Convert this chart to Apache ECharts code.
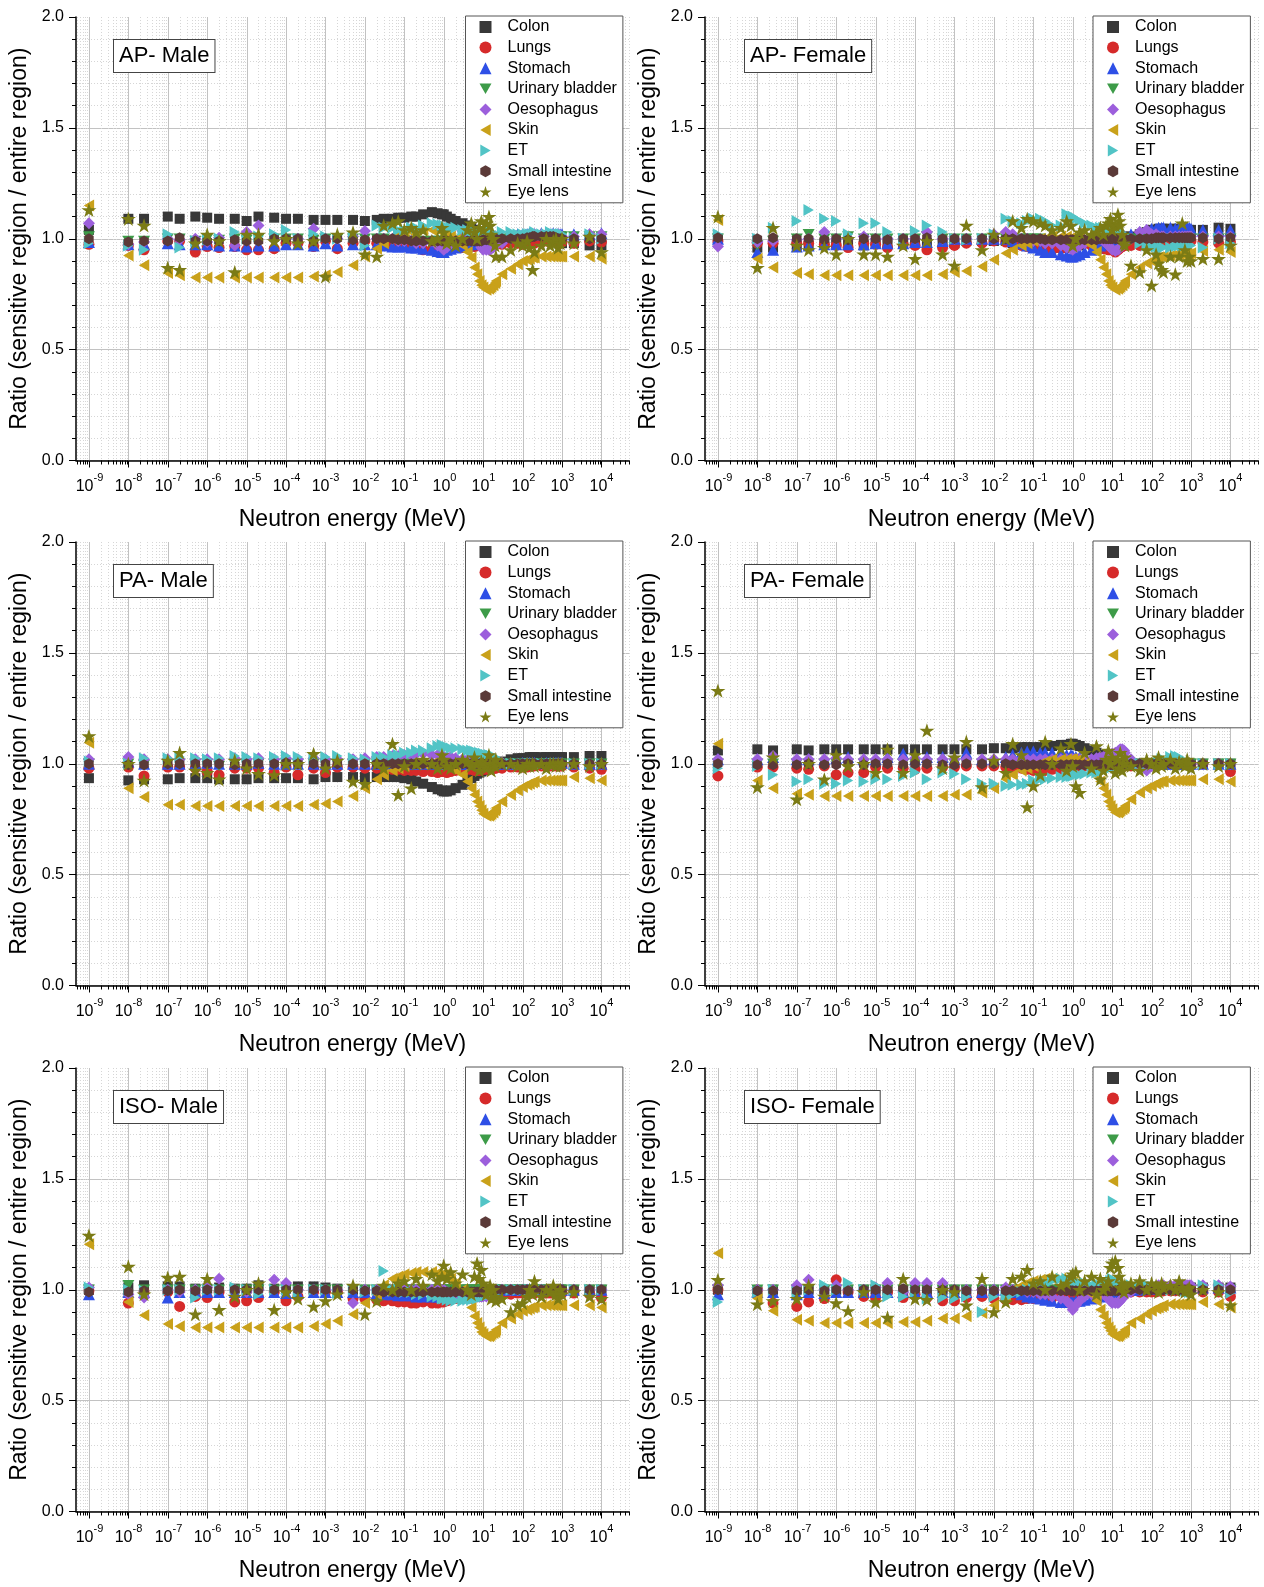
<!DOCTYPE html>
<html><head><meta charset="utf-8">
<script src="https://cdn.jsdelivr.net/npm/echarts@6/dist/echarts.min.js"></script>
<style>html,body{margin:0;padding:0;background:#fff}#c{width:1264px;height:1587px}</style>
</head><body><div id="c"></div>
<script>
// ---------- DATA ----------
const energies = [1e-9,1e-8,2.5e-8,
  1e-7,2e-7,5e-7,1e-6,2e-6,5e-6,1e-5,2e-5,5e-5,1e-4,2e-4,5e-4,1e-3,2e-3,5e-3,
  1e-2,2e-2,3e-2,5e-2,7e-2,0.1,0.15,0.2,0.3,0.5,0.7,0.9,
  1,1.2,1.5,2,3,4,5,6,7,8,9,
  10,12,14,15,16,18,20,21,30,
  50,75,100,130,150,180,200,300,400,500,600,700,800,900,1000,
  2000,5000,10000];
const seriesNames = ['Colon','Lungs','Stomach','Urinary bladder','Oesophagus','Skin','ET','Small intestine','Eye lens'];
const panelTitles = ['AP- Male','AP- Female','PA- Male','PA- Female','ISO- Male','ISO- Female'];
const decadeExponents = [-9,-8,-7,-6,-5,-4,-3,-2,-1,0,1,2,3,4];
const yTicks = [0,0.5,1.0,1.5,2.0];

// AP - Male
const apMColon = [1.04,1.09,1.09,
  1.10,1.09,1.10,1.095,1.09,1.09,1.08,1.10,1.095,1.09,1.09,1.085,1.085,1.085,1.085,
  1.08,1.085,1.09,1.09,1.095,1.095,1.10,1.10,1.11,1.12,1.115,1.11,
  1.11,1.10,1.09,1.08,1.07,1.06,1.05,1.04,1.03,1.02,1.01,
  1.00,1.00,0.99,0.99,0.99,0.99,0.99,0.99,0.99,
  0.99,0.99,1.00,1.00,1.00,1.00,1.00,1.00,1.00,1.00,1.00,1.00,0.99,0.99,0.98,
  0.98,0.97,0.97];
const apMLungs = [0.975,0.97,0.95,
  0.99,0.99,0.94,0.965,0.96,0.965,0.95,0.95,0.955,0.98,0.98,0.965,0.99,0.955,0.98,
  0.99,0.98,0.98,0.97,0.97,0.97,0.96,0.965,0.95,0.95,0.955,0.96,
  0.965,0.97,0.97,0.97,0.96,0.965,0.97,0.965,0.97,0.975,0.97,
  0.975,0.98,0.97,0.975,0.98,0.975,0.98,0.98,0.975,
  0.98,0.98,0.975,0.98,0.98,0.985,0.98,0.985,0.99,0.985,0.99,0.99,0.985,0.99,0.985,
  0.98,0.99,0.985];
const apMStomach = [0.985,0.975,0.975,
  0.98,0.975,0.975,0.975,0.97,0.97,0.965,0.97,0.97,0.975,0.975,0.97,0.98,0.97,0.975,
  0.975,0.975,0.97,0.965,0.965,0.965,0.96,0.96,0.955,0.95,0.945,0.94,
  0.94,0.95,0.955,0.96,0.965,0.97,0.975,0.98,0.98,0.985,0.99,
  0.99,0.995,1.0,1.0,1.0,1.005,1.01,1.01,1.01,
  1.015,1.02,1.02,1.02,1.025,1.02,1.02,1.025,1.02,1.02,1.025,1.02,1.02,1.02,1.02,
  1.02,1.02,1.025];
const apMBladder = [1.01,0.99,0.99,
  1.0,1.0,0.99,1.0,0.995,1.0,0.995,1.0,1.0,1.0,1.0,0.995,1.0,1.0,1.0,
  1.0,1.0,1.0,0.995,0.995,0.995,0.99,0.99,0.99,0.99,0.99,0.99,
  0.99,0.99,0.99,0.995,0.995,1.0,1.0,1.0,1.0,1.0,1.0,
  1.0,1.0,1.0,1.0,1.0,1.0,1.0,1.0,1.0,
  1.0,1.0,1.005,1.005,1.01,1.01,1.01,1.01,1.01,1.01,1.01,1.01,1.01,1.01,1.01,
  1.01,1.01,1.01];
const apMOeso = [1.07,0.975,0.985,
  1.0,0.995,1.0,0.985,1.005,0.97,1.03,1.06,1.0,1.0,1.0,1.045,1.0,1.0,1.01,
  1.035,1.0,1.0,1.0,0.99,0.99,0.99,0.98,0.98,0.99,0.97,0.96,
  0.95,0.96,0.98,0.99,1.035,1.02,1.02,1.01,1.0,0.98,0.96,
  0.95,0.95,0.95,0.95,0.955,0.96,0.97,0.97,0.98,
  1.0,1.0,1.01,1.01,1.02,1.015,1.02,1.02,1.02,1.015,1.02,1.015,1.02,1.015,1.01,
  1.01,1.02,1.02];
const apMSkin = [1.15,0.925,0.88,
  0.845,0.835,0.825,0.825,0.825,0.825,0.825,0.825,0.825,0.825,0.825,0.83,0.835,0.85,0.88,
  0.92,0.955,0.98,1.0,1.02,1.03,1.03,1.04,1.04,1.04,1.04,1.035,
  1.03,1.02,1.01,1.0,0.97,0.94,0.915,0.87,0.84,0.81,0.79,
  0.78,0.77,0.775,0.78,0.785,0.79,0.80,0.81,0.84,
  0.865,0.885,0.90,0.905,0.91,0.915,0.915,0.92,0.92,0.92,0.92,0.92,0.92,0.92,0.92,
  0.92,0.92,0.91];
const apMET = [0.98,0.97,0.95,
  1.02,0.96,0.99,0.995,1.0,1.03,1.0,1.01,1.02,1.04,1.0,1.02,1.01,1.0,1.01,
  0.97,1.06,1.05,1.05,1.04,1.04,1.05,1.05,1.06,1.07,1.065,1.06,
  1.06,1.05,1.05,1.05,1.04,1.04,1.03,1.03,1.02,1.02,1.02,
  1.02,1.03,1.03,1.03,1.03,1.02,1.02,1.02,1.03,
  1.03,1.02,1.02,1.02,1.02,1.02,1.03,1.02,1.02,1.03,1.02,1.02,1.02,1.02,1.02,
  1.0,1.02,1.0];
const apMSI = [1.0,0.985,0.99,
  0.99,1.005,0.99,0.99,0.99,0.995,0.99,0.99,1.0,1.0,1.0,0.99,1.0,1.0,0.995,
  0.995,1.0,1.0,1.0,0.995,0.995,0.99,0.99,0.99,0.99,0.99,0.99,
  0.99,0.99,0.99,0.99,0.99,0.99,0.99,0.99,0.99,0.99,0.99,
  0.995,0.995,0.995,1.0,1.0,1.0,1.0,1.0,1.0,
  1.0,1.0,1.0,1.005,1.005,1.01,1.01,1.01,1.01,1.01,1.01,1.005,1.0,1.0,1.0,
  1.0,1.0,1.0];
const apMEye = [1.13,1.09,1.06,
  0.87,0.86,0.98,1.02,0.99,0.85,1.02,1.02,0.99,1.0,0.98,0.99,0.83,1.02,1.03,
  0.93,0.92,1.06,1.07,1.08,1.04,1.05,1.03,1.04,0.99,1.0,1.05,
  1.03,0.98,1.0,0.97,1.0,1.04,1.07,1.03,1.0,1.05,1.08,
  1.04,1.07,1.1,1.06,1.02,1.0,0.97,0.92,0.92,
  0.95,0.98,0.97,0.99,0.96,0.86,0.94,0.97,1.0,0.97,0.99,1.0,0.96,0.98,1.0,
  0.98,1.01,0.94];

// AP - Female
const apFColon = [1.0,0.96,0.96,
  0.97,0.97,0.98,0.98,0.98,0.97,0.98,0.98,0.98,0.98,0.98,0.98,0.98,0.99,0.99,
  0.99,0.99,0.98,0.98,0.97,0.97,0.97,0.96,0.96,0.96,0.96,0.96,
  0.96,0.97,0.97,0.98,0.98,0.98,0.98,0.99,0.99,0.99,0.99,
  1.0,1.0,1.0,1.0,1.0,1.0,1.0,1.01,1.01,
  1.02,1.03,1.04,1.04,1.045,1.045,1.045,1.045,1.045,1.045,1.045,1.04,1.04,1.04,1.04,
  1.04,1.05,1.045];
const apFLungs = [0.99,0.98,0.98,
  0.98,0.98,0.975,0.97,0.96,0.98,0.975,0.96,0.975,0.97,0.95,0.96,0.97,0.98,0.98,
  0.99,0.985,0.98,0.97,0.965,0.96,0.96,0.955,0.95,0.955,0.96,0.965,
  0.97,0.97,0.975,0.98,0.97,0.965,0.96,0.955,0.955,0.95,0.95,
  0.95,0.94,0.95,0.955,0.96,0.965,0.97,0.97,0.97,
  0.97,0.97,0.975,0.98,0.98,0.985,0.985,0.985,0.99,0.99,0.99,0.99,0.99,0.99,0.99,
  0.985,0.98,0.985];
const apFStomach = [1.0,0.94,0.95,
  0.965,0.97,0.975,0.975,0.975,0.975,0.98,0.98,0.98,0.985,0.985,0.99,1.0,1.0,1.0,
  1.0,1.0,0.99,0.98,0.97,0.96,0.95,0.94,0.94,0.93,0.925,0.92,
  0.92,0.925,0.93,0.94,0.95,0.96,0.97,0.975,0.98,0.985,0.99,
  0.995,1.0,1.0,1.0,1.0,1.005,1.01,1.01,1.02,
  1.03,1.04,1.045,1.045,1.05,1.05,1.05,1.05,1.045,1.05,1.05,1.045,1.05,1.05,1.045,
  1.04,1.04,1.04];
const apFBladder = [1.0,0.97,0.99,
  1.0,1.02,1.0,1.0,1.01,1.0,1.0,1.0,1.0,1.0,1.01,1.0,1.0,1.0,1.0,
  1.0,1.0,1.0,1.0,1.0,1.0,1.0,0.99,0.99,0.99,0.99,0.99,
  0.99,0.99,0.99,0.99,1.0,1.0,1.0,1.0,1.0,1.0,1.0,
  1.0,1.0,1.0,1.0,1.0,1.0,1.0,1.0,1.0,
  1.0,1.0,1.0,1.0,1.0,1.0,1.0,1.0,1.0,1.0,1.0,1.0,1.0,1.0,1.0,
  1.0,1.0,1.0];
const apFOeso = [0.965,0.985,0.99,
  0.995,1.0,1.03,1.0,1.0,1.01,1.0,1.0,1.0,1.0,1.03,1.0,1.0,1.0,1.0,
  1.02,1.03,1.02,1.0,1.0,0.99,0.99,0.98,0.98,0.97,0.96,0.955,
  0.95,0.96,0.97,0.98,0.99,1.0,1.0,0.99,0.98,0.97,0.96,
  0.95,0.945,0.95,0.955,0.96,0.97,0.98,0.99,1.0,
  1.03,1.04,1.02,1.02,1.01,1.01,1.01,1.01,1.01,1.01,1.01,1.01,1.01,1.01,1.01,
  1.01,1.01,1.01];
const apFSkin = [1.085,0.91,0.87,
  0.845,0.84,0.835,0.835,0.835,0.835,0.835,0.835,0.835,0.835,0.835,0.84,0.85,0.855,0.875,
  0.905,0.935,0.95,0.97,0.98,0.99,1.0,1.0,1.01,1.01,1.01,1.005,
  1.0,1.0,1.0,0.99,0.97,0.94,0.905,0.87,0.84,0.81,0.79,
  0.78,0.77,0.775,0.78,0.785,0.79,0.80,0.81,0.84,
  0.87,0.89,0.90,0.91,0.915,0.92,0.92,0.925,0.93,0.93,0.93,0.93,0.93,0.93,0.935,
  0.945,0.95,0.94];
const apFET = [1.02,1.0,1.05,
  1.08,1.13,1.09,1.08,1.02,1.07,1.07,1.03,1.0,1.035,1.06,1.03,1.0,0.995,1.0,
  1.02,1.09,1.08,1.07,1.08,1.09,1.09,1.08,1.06,1.06,1.11,1.10,
  1.10,1.09,1.08,1.07,1.06,1.05,1.05,1.05,1.04,1.04,1.04,
  1.04,1.04,1.03,1.03,1.03,1.02,1.02,1.01,1.0,
  0.98,0.97,0.965,0.965,0.96,0.96,0.96,0.96,0.965,0.97,0.97,0.97,0.97,0.975,0.97,
  0.96,1.0,0.98];
const apFSI = [1.005,1.0,1.005,
  1.0,1.0,0.995,1.0,0.995,1.0,1.0,0.995,1.0,1.0,1.005,1.0,1.0,1.0,1.0,
  1.0,1.0,1.0,1.0,1.0,1.0,1.0,0.995,0.995,0.995,0.995,0.995,
  0.995,0.995,0.995,0.995,0.995,0.995,1.0,1.0,1.0,1.0,1.0,
  1.0,1.0,1.0,1.0,1.0,1.0,1.0,1.0,1.0,
  1.0,1.0,1.0,1.005,1.005,1.005,1.005,1.005,1.005,1.005,1.005,1.005,1.005,1.005,1.005,
  1.005,1.0,1.005];
const apFEye = [1.1,0.87,1.05,
  0.97,0.95,0.96,0.93,1.0,0.93,0.93,0.92,0.97,0.91,0.99,0.93,0.88,1.06,0.95,
  1.02,1.0,1.08,1.05,1.09,1.08,1.07,1.06,1.04,1.05,1.08,1.06,
  0.97,1.0,1.03,1.04,1.02,1.03,1.05,1.02,1.06,1.07,1.09,
  1.04,1.06,1.11,1.08,1.06,1.02,0.98,0.97,0.88,
  0.85,0.95,0.79,0.93,0.89,0.86,0.85,0.92,0.84,0.92,1.07,0.95,0.90,0.92,0.90,
  0.91,0.91,0.97];

// PA - Male
const paMColon = [0.935,0.925,0.93,
  0.93,0.935,0.935,0.935,0.93,0.93,0.93,0.935,0.935,0.935,0.935,0.93,0.94,0.94,0.94,
  0.94,0.94,0.94,0.94,0.94,0.935,0.93,0.92,0.91,0.895,0.885,0.88,
  0.875,0.875,0.88,0.89,0.905,0.92,0.935,0.945,0.955,0.96,0.965,
  0.97,0.975,0.98,0.985,0.99,0.995,1.0,1.0,1.01,
  1.02,1.025,1.025,1.025,1.03,1.03,1.03,1.03,1.03,1.03,1.03,1.03,1.03,1.03,1.03,
  1.03,1.035,1.035];
const paMLungs = [0.98,0.985,0.945,
  0.985,0.985,0.98,0.965,0.95,0.98,0.98,0.98,0.96,0.985,0.95,0.98,0.96,0.985,0.985,
  0.98,0.98,0.98,0.975,0.975,0.97,0.97,0.97,0.965,0.965,0.96,0.965,
  0.965,0.96,0.965,0.97,0.97,0.975,0.975,0.97,0.97,0.97,0.975,
  0.975,0.975,0.975,0.98,0.98,0.98,0.98,0.98,0.98,
  0.985,0.985,0.985,0.985,0.99,0.99,0.99,0.99,0.99,0.99,0.99,0.99,0.99,0.99,0.99,
  0.985,0.98,0.975];
const paMStomach = [1.0,1.01,1.0,
  1.0,1.0,1.0,1.005,1.0,1.0,1.0,1.005,1.0,1.0,1.0,1.0,1.0,1.0,1.0,
  1.0,1.0,1.0,1.0,1.0,1.0,1.0,1.0,1.0,1.0,1.0,1.0,
  1.0,1.0,1.0,1.0,1.0,1.0,1.0,1.0,1.0,1.0,1.0,
  1.0,1.0,1.0,1.0,1.0,1.0,1.0,1.0,1.0,
  1.0,1.0,1.005,1.005,1.005,1.005,1.005,1.005,1.005,1.005,1.005,1.005,1.005,1.005,1.005,
  1.0,1.0,1.0];
const paMBladder = [1.0,1.0,0.995,
  1.0,1.0,1.0,1.0,0.99,1.0,1.0,1.0,1.0,1.0,1.0,1.0,1.0,1.0,1.0,
  1.0,1.0,1.0,1.0,1.0,1.0,1.0,1.0,1.0,0.995,0.995,0.995,
  0.995,0.995,0.995,0.995,1.0,1.0,1.0,1.0,1.0,1.0,1.0,
  1.0,1.0,1.0,1.0,1.0,1.0,1.0,1.0,1.0,
  1.0,1.0,1.0,1.0,1.0,1.0,1.0,1.0,1.0,1.0,1.0,1.0,1.0,1.0,1.0,
  1.0,1.0,1.0];
const paMOeso = [1.02,1.03,1.02,
  1.02,1.02,1.02,1.02,1.02,1.025,1.02,1.025,1.02,1.025,1.02,1.025,1.02,1.02,1.02,
  1.025,1.03,1.03,1.035,1.035,1.04,1.04,1.045,1.045,1.04,1.04,1.035,
  1.03,1.03,1.03,1.025,1.02,1.02,1.02,1.015,1.015,1.01,1.01,
  1.01,1.01,1.01,1.01,1.005,1.005,1.005,1.005,1.005,
  1.0,1.0,1.0,1.0,1.0,1.0,1.0,1.0,1.0,1.0,1.0,1.0,1.0,1.0,1.0,
  1.0,1.0,1.0];
const paMSkin = [1.095,0.89,0.85,
  0.815,0.815,0.81,0.81,0.81,0.81,0.81,0.81,0.81,0.81,0.81,0.815,0.82,0.83,0.855,
  0.89,0.93,0.95,0.97,0.98,0.99,1.0,1.0,1.0,1.0,1.0,1.0,
  0.995,0.99,0.98,0.97,0.95,0.92,0.89,0.86,0.83,0.81,0.79,
  0.775,0.765,0.765,0.77,0.775,0.78,0.79,0.80,0.83,
  0.86,0.88,0.895,0.905,0.91,0.915,0.92,0.925,0.925,0.925,0.925,0.925,0.925,0.925,0.925,
  0.94,0.935,0.925];
const paMET = [1.01,1.0,1.025,
  1.025,1.03,1.025,1.02,1.025,1.035,1.03,1.025,1.03,1.035,1.03,1.025,1.03,1.035,1.025,
  1.02,1.03,1.03,1.04,1.04,1.05,1.05,1.06,1.06,1.07,1.08,1.085,
  1.08,1.075,1.07,1.07,1.065,1.06,1.06,1.055,1.05,1.05,1.045,
  1.045,1.04,1.04,1.035,1.035,1.03,1.03,1.02,1.01,
  1.0,1.0,1.0,1.0,1.0,1.0,1.0,1.0,1.0,1.0,1.0,1.0,1.0,1.0,1.0,
  1.0,1.0,1.0];
const paMSI = [1.0,0.995,0.995,
  1.0,1.0,1.0,1.0,1.0,0.995,1.0,1.0,1.0,1.005,1.0,1.0,1.0,1.0,1.0,
  1.0,1.0,1.0,1.0,1.0,1.0,1.0,1.0,1.0,1.0,1.0,1.0,
  1.0,1.0,1.0,1.0,1.0,1.0,1.0,1.0,1.0,1.0,1.0,
  1.0,1.0,1.0,1.0,1.0,1.0,1.0,1.0,1.0,
  1.0,1.0,1.0,1.0,1.0,1.0,1.0,1.0,1.0,1.0,1.0,1.0,1.0,1.0,1.0,
  1.0,1.0,1.0];
const paMEye = [1.125,1.0,0.925,
  1.015,1.05,0.97,0.96,0.93,1.015,0.98,0.955,0.95,1.0,1.0,1.045,0.98,1.015,0.92,
  0.91,1.0,0.98,1.09,0.86,0.99,0.89,1.0,1.02,1.0,0.98,1.04,
  1.02,0.99,0.98,1.0,1.02,1.01,0.99,1.03,1.0,0.97,1.01,
  1.0,0.98,1.04,1.0,0.97,1.0,0.99,1.02,1.0,
  1.0,0.99,0.98,1.0,0.99,1.0,0.99,1.0,0.98,1.0,1.0,0.99,1.0,0.99,1.0,
  1.0,0.99,1.0];

// PA - Female
const paFColon = [1.06,1.065,1.06,
  1.065,1.06,1.065,1.065,1.065,1.065,1.065,1.065,1.065,1.065,1.065,1.065,1.065,1.065,1.065,
  1.07,1.07,1.07,1.075,1.075,1.075,1.075,1.08,1.08,1.085,1.085,1.09,
  1.09,1.085,1.08,1.07,1.06,1.05,1.04,1.03,1.02,1.01,1.0,
  1.0,1.0,1.0,1.0,1.0,1.0,1.0,1.0,1.0,
  1.0,1.0,1.0,1.0,1.0,1.0,1.0,1.0,1.0,1.0,1.0,1.0,1.0,1.0,1.0,
  1.0,1.0,1.0];
const paFLungs = [0.945,0.985,0.985,
  0.98,0.975,0.99,0.95,0.96,0.96,0.985,0.98,0.98,0.975,0.98,0.985,0.985,0.99,0.99,
  0.99,0.985,0.98,0.98,0.975,0.97,0.97,0.97,0.975,0.975,0.98,0.98,
  0.985,0.985,0.99,0.99,0.99,0.99,0.99,0.99,0.99,0.99,0.99,
  0.99,0.99,0.99,0.99,0.99,0.99,0.99,0.99,0.99,
  0.99,0.995,0.995,1.0,1.0,1.0,1.0,1.0,1.0,1.0,1.0,1.0,1.0,1.0,1.0,
  1.0,1.0,0.965];
const paFStomach = [1.02,1.02,1.03,
  1.02,1.02,1.02,1.025,1.03,1.02,1.02,1.03,1.045,1.02,1.03,1.03,1.02,1.05,1.02,
  1.02,1.03,1.04,1.05,1.055,1.055,1.05,1.05,1.05,1.045,1.04,1.04,
  1.035,1.03,1.03,1.025,1.02,1.02,1.015,1.01,1.01,1.01,1.005,
  1.005,1.0,1.0,1.0,1.0,1.0,1.0,1.0,1.0,
  1.0,1.0,1.0,1.0,1.0,1.0,1.0,1.0,1.0,1.0,1.0,1.0,1.0,1.0,1.0,
  1.0,1.0,1.0];
const paFBladder = [1.0,1.0,1.0,
  1.0,1.0,1.0,1.0,1.0,1.0,1.0,1.0,1.0,1.0,1.0,1.0,1.0,1.0,1.0,
  1.0,1.0,1.0,1.0,1.0,1.0,1.0,1.0,1.0,1.0,1.0,1.0,
  1.0,1.0,1.0,1.0,1.0,1.0,1.0,1.0,1.0,1.0,1.0,
  1.0,1.0,1.0,1.0,1.0,1.0,1.0,1.0,1.0,
  1.0,1.0,1.0,1.0,1.0,1.0,1.0,1.0,1.0,1.0,1.0,1.0,1.0,1.0,1.0,
  1.0,1.0,1.0];
const paFOeso = [1.02,1.02,1.035,
  1.02,1.02,1.02,1.025,1.02,1.02,1.02,1.02,1.02,1.025,1.02,1.02,1.02,1.02,1.02,
  1.02,1.02,1.02,1.02,1.02,1.02,1.02,1.02,1.02,1.02,1.02,1.02,
  1.02,1.02,1.02,1.02,1.02,1.025,1.03,1.03,1.035,1.04,1.04,
  1.045,1.05,1.055,1.06,1.065,1.065,1.06,1.05,1.02,
  0.98,0.97,0.99,1.0,1.0,1.0,1.0,1.0,1.0,1.0,1.0,1.0,1.0,1.0,1.0,
  1.0,1.0,1.0];
const paFSkin = [1.09,0.925,0.89,
  0.865,0.86,0.855,0.855,0.855,0.855,0.855,0.855,0.855,0.855,0.855,0.855,0.86,0.86,0.87,
  0.89,0.93,0.95,0.97,0.98,0.99,1.0,1.01,1.02,1.02,1.02,1.02,
  1.02,1.015,1.01,1.0,0.98,0.95,0.92,0.89,0.86,0.83,0.81,
  0.795,0.78,0.78,0.785,0.79,0.795,0.80,0.81,0.84,
  0.87,0.89,0.90,0.91,0.915,0.92,0.92,0.925,0.925,0.925,0.925,0.925,0.925,0.925,0.925,
  0.93,0.93,0.92];
const paFET = [0.98,0.99,0.95,
  0.92,0.93,0.91,0.91,0.925,0.92,0.93,0.93,0.945,0.96,0.93,0.96,0.955,0.93,0.91,
  0.91,0.90,0.905,0.905,0.91,0.925,0.93,0.93,0.935,0.94,0.94,0.945,
  0.945,0.95,0.95,0.955,0.96,0.96,0.965,0.97,0.975,0.98,0.98,
  0.985,0.99,0.99,0.99,0.995,0.995,1.0,1.0,1.0,
  1.0,1.0,1.0,1.0,1.01,1.02,1.02,1.03,1.035,1.03,1.02,1.01,1.0,1.0,1.0,
  1.0,1.0,1.0];
const paFSI = [1.0,0.995,0.995,
  0.995,1.0,0.995,0.995,1.0,0.995,1.0,1.0,0.995,1.0,1.0,0.995,0.995,1.0,1.0,
  1.0,1.0,0.995,0.995,0.995,0.995,0.995,0.995,0.995,0.995,0.995,0.995,
  0.995,0.995,0.995,0.995,0.995,0.995,0.995,0.995,0.995,0.995,0.995,
  0.995,0.995,0.995,1.0,1.0,1.0,1.0,1.0,1.0,
  1.0,1.0,1.0,1.0,1.0,1.0,1.0,1.0,1.0,1.0,1.0,1.0,1.0,1.0,1.0,
  1.0,1.0,1.0];
const paFEye = [1.33,0.895,1.03,
  0.84,1.0,0.93,1.04,0.99,1.0,0.96,1.065,0.96,1.04,1.15,0.98,1.03,1.1,0.895,
  1.015,0.96,1.09,1.04,0.805,0.9,0.95,1.1,1.0,1.07,0.97,1.09,
  0.99,0.9,0.87,1.05,0.98,1.08,0.93,0.97,1.02,1.06,1.0,
  1.03,0.96,1.02,0.98,1.05,0.97,1.0,1.03,0.99,
  0.97,1.02,1.0,0.98,1.03,0.99,1.0,1.02,0.98,1.01,1.0,0.99,1.02,1.0,0.98,
  1.0,0.99,1.0];

// ISO - Male
const isoMColon = [1.0,1.01,1.02,
  1.015,1.015,1.005,1.005,1.01,1.005,1.005,1.02,1.005,1.005,1.015,1.015,1.01,1.005,1.0,
  1.0,1.0,1.0,1.0,1.0,1.0,1.0,1.0,1.0,1.0,1.0,1.0,
  1.0,1.0,1.0,1.0,1.0,1.0,1.0,1.0,1.0,1.0,1.0,
  1.0,1.0,1.0,1.0,1.0,1.0,1.0,1.0,1.0,
  1.0,1.0,1.0,1.0,1.0,1.0,1.0,1.0,1.0,1.0,1.0,1.0,1.0,1.0,1.0,
  1.0,1.0,1.0];
const isoMLungs = [0.995,0.94,0.99,
  0.99,0.925,0.97,0.965,0.99,0.945,0.95,0.965,0.99,0.95,0.97,0.99,0.99,0.99,0.96,
  0.96,0.955,0.95,0.95,0.945,0.945,0.94,0.94,0.945,0.94,0.94,0.945,
  0.945,0.95,0.955,0.96,0.96,0.965,0.965,0.97,0.97,0.97,0.975,
  0.975,0.975,0.98,0.98,0.98,0.98,0.98,0.98,0.98,
  0.98,0.985,0.985,0.985,0.985,0.985,0.985,0.985,0.985,0.985,0.985,0.985,0.985,0.985,0.985,
  0.985,0.98,0.965];
const isoMStomach = [0.98,0.99,0.99,
  0.965,0.99,0.99,0.99,0.99,0.99,0.99,0.99,0.99,0.985,0.985,0.99,0.99,0.99,0.99,
  0.99,0.985,0.98,0.98,0.975,0.975,0.975,0.97,0.97,0.97,0.97,0.97,
  0.975,0.975,0.975,0.98,0.98,0.98,0.985,0.985,0.985,0.99,0.99,
  0.99,0.99,0.99,0.995,0.995,0.995,0.995,1.0,1.0,
  1.0,1.0,1.0,1.0,1.0,1.0,1.0,1.0,1.0,1.0,1.0,1.0,1.0,1.0,1.0,
  1.0,1.0,1.0];
const isoMBladder = [1.0,1.02,1.0,
  1.0,1.0,1.0,1.0,1.0,1.0,1.0,1.0,1.0,1.0,1.0,1.0,1.0,1.0,1.0,
  1.0,1.0,1.0,1.0,1.0,1.0,1.0,1.0,1.0,1.0,1.0,1.0,
  1.0,1.0,1.0,1.0,1.0,1.0,1.0,1.0,1.0,1.0,1.0,
  1.0,1.0,1.0,1.0,1.0,1.0,1.0,1.0,1.0,
  1.0,1.0,1.0,1.0,1.0,1.0,1.0,1.0,1.0,1.0,1.0,1.0,1.0,1.0,1.0,
  1.0,1.0,1.0];
const isoMOeso = [1.01,0.98,0.965,
  1.0,0.99,1.0,1.01,1.05,1.0,0.99,1.0,1.045,1.03,1.0,1.0,1.0,1.0,0.94,
  1.0,1.0,1.0,1.0,1.0,1.0,1.0,1.0,1.0,1.0,1.0,1.0,
  1.0,0.99,0.98,0.97,0.96,0.96,0.96,0.97,0.97,0.97,0.97,
  0.97,0.97,0.98,0.98,0.99,0.99,1.0,1.0,1.0,
  1.0,1.0,1.0,1.0,1.0,1.0,1.0,1.0,1.0,1.0,1.0,1.0,1.0,1.0,1.0,
  1.0,1.0,1.0];
const isoMSkin = [1.205,0.945,0.885,
  0.845,0.835,0.83,0.83,0.83,0.83,0.83,0.83,0.83,0.83,0.83,0.835,0.845,0.86,0.89,
  0.94,0.98,1.02,1.05,1.06,1.07,1.075,1.08,1.08,1.08,1.075,1.07,
  1.065,1.06,1.05,1.03,1.0,0.96,0.92,0.88,0.85,0.83,0.81,
  0.80,0.79,0.79,0.795,0.80,0.805,0.81,0.82,0.85,
  0.87,0.89,0.905,0.91,0.915,0.92,0.925,0.93,0.93,0.93,0.93,0.93,0.93,0.93,0.93,
  0.93,0.93,0.92];
const isoMET = [1.01,1.0,0.995,
  1.0,1.0,0.965,1.0,1.0,1.01,1.0,0.98,1.0,1.0,0.99,1.0,1.0,0.985,1.0,
  0.99,1.0,1.085,1.0,1.0,0.99,0.99,0.98,0.98,0.97,0.97,0.96,
  0.96,0.955,0.95,0.95,0.95,0.955,0.955,0.96,0.96,0.965,0.97,
  0.97,0.975,0.98,0.98,0.985,0.99,0.99,0.99,1.0,
  1.0,1.0,1.0,1.0,1.0,1.0,1.0,1.0,1.0,1.0,1.0,1.0,1.0,1.0,1.0,
  1.0,1.0,1.0];
const isoMSI = [0.99,0.99,0.995,
  0.995,1.0,0.995,1.0,1.0,1.0,1.0,1.0,1.0,1.0,1.0,1.0,1.0,1.0,1.0,
  0.995,0.995,0.99,0.99,0.99,0.99,0.99,0.99,0.99,0.99,0.99,0.99,
  0.99,0.99,0.99,0.99,0.99,0.99,0.99,0.99,0.99,0.99,0.99,
  0.99,0.99,0.995,0.995,0.995,0.995,1.0,1.0,1.0,
  1.0,1.0,1.0,1.0,1.0,1.0,1.0,1.0,1.0,1.0,1.0,1.0,1.0,1.0,1.0,
  1.0,1.0,1.0];
const isoMEye = [1.245,1.105,0.98,
  1.055,1.06,0.89,1.05,0.91,0.97,1.0,1.03,0.91,0.99,0.96,0.925,0.95,0.98,1.02,
  0.89,0.95,1.02,1.0,1.03,1.04,1.0,1.05,1.02,1.07,1.04,1.06,
  1.11,1.05,1.08,1.03,1.07,1.0,0.98,1.06,1.12,1.05,1.09,
  1.03,0.98,1.0,1.02,0.96,1.0,0.97,0.95,0.96,
  0.9,0.93,0.94,0.97,1.0,0.98,1.04,0.97,1.0,0.99,1.02,0.98,0.96,1.0,0.98,
  0.99,0.97,0.96];

// ISO - Female
const isoFColon = [1.0,0.995,1.0,
  1.0,1.0,1.0,1.0,1.0,1.0,1.0,1.0,1.0,1.0,1.0,1.0,1.0,1.0,1.0,
  1.0,1.0,1.0,1.0,1.0,1.0,1.0,1.0,1.0,1.0,1.0,1.0,
  1.0,1.0,1.0,1.0,1.0,1.0,1.0,1.0,1.0,1.0,1.0,
  1.0,1.0,1.0,1.0,1.0,1.0,1.0,1.0,1.0,
  1.005,1.01,1.01,1.01,1.01,1.01,1.01,1.01,1.01,1.01,1.01,1.01,1.01,1.01,1.01,
  1.01,1.01,1.01];
const isoFLungs = [1.0,1.0,0.94,
  0.925,0.945,0.96,1.045,0.99,0.97,0.965,0.99,0.965,0.98,0.965,0.95,0.95,0.965,0.97,
  0.96,0.955,0.955,0.955,0.96,0.96,0.96,0.965,0.965,0.97,0.97,0.97,
  0.975,0.975,0.975,0.98,0.98,0.98,0.985,0.985,0.985,0.985,0.99,
  0.99,0.99,0.99,0.99,0.99,0.99,0.99,0.99,0.99,
  0.99,0.99,0.99,0.99,0.995,0.995,0.995,0.995,0.995,0.995,0.995,0.995,0.995,0.995,0.995,
  0.99,0.99,0.97];
const isoFStomach = [0.98,0.99,0.99,
  0.98,0.99,0.985,0.99,0.99,0.99,0.99,0.99,0.99,0.99,0.99,0.99,0.99,0.99,0.99,
  1.0,1.0,0.99,0.98,0.97,0.965,0.96,0.955,0.95,0.945,0.945,0.945,
  0.945,0.95,0.95,0.955,0.96,0.965,0.97,0.975,0.98,0.98,0.985,
  0.99,0.99,0.99,0.995,0.995,1.0,1.0,1.0,1.0,
  1.0,1.005,1.005,1.01,1.01,1.01,1.01,1.01,1.01,1.01,1.01,1.01,1.01,1.01,1.01,
  1.01,1.01,1.01];
const isoFBladder = [1.0,1.0,1.0,
  1.0,1.0,1.0,1.0,1.0,1.0,1.0,1.0,1.0,1.0,1.0,1.0,1.0,1.0,1.0,
  1.0,1.0,1.0,1.0,1.0,1.0,1.0,1.0,1.0,1.0,1.0,1.0,
  1.0,1.0,1.0,1.0,1.0,1.0,1.0,1.0,1.0,1.0,1.0,
  1.0,1.0,1.0,1.0,1.0,1.0,1.0,1.0,1.0,
  1.0,1.0,1.0,1.0,1.0,1.0,1.0,1.0,1.0,1.0,1.0,1.0,1.0,1.0,1.0,
  1.0,1.0,1.0];
const isoFOeso = [1.02,1.0,1.0,
  1.02,1.045,1.0,1.02,1.0,1.0,1.01,1.03,0.99,1.03,1.03,1.03,1.0,1.0,1.0,
  1.0,1.01,1.0,1.0,0.99,0.99,0.98,0.98,0.97,0.96,0.95,0.93,
  0.91,0.93,0.95,0.97,0.98,0.99,0.99,0.98,0.97,0.96,0.95,
  0.94,0.94,0.94,0.945,0.95,0.96,0.97,0.98,0.99,
  1.0,1.01,1.015,1.015,1.02,1.02,1.02,1.02,1.02,1.02,1.02,1.02,1.02,1.02,1.02,
  1.02,1.02,1.015];
const isoFSkin = [1.165,0.96,0.905,
  0.865,0.86,0.85,0.85,0.85,0.85,0.85,0.85,0.855,0.855,0.86,0.87,0.87,0.88,0.895,
  0.93,0.97,1.0,1.02,1.03,1.04,1.045,1.05,1.05,1.05,1.045,1.04,
  1.035,1.03,1.02,1.01,0.98,0.95,0.91,0.88,0.85,0.83,0.815,
  0.80,0.79,0.79,0.795,0.80,0.805,0.81,0.82,0.85,
  0.87,0.89,0.905,0.915,0.92,0.925,0.93,0.935,0.935,0.935,0.935,0.935,0.935,0.935,0.935,
  0.945,0.935,0.92];
const isoFET = [0.945,0.99,1.0,
  0.99,1.0,1.02,1.0,1.03,1.0,1.02,0.97,0.97,0.99,0.96,0.965,0.96,0.97,0.90,
  0.97,0.97,0.98,0.99,1.0,1.01,1.02,1.03,1.04,1.05,1.05,1.04,
  1.04,1.035,1.03,1.03,1.02,1.02,1.02,1.02,1.02,1.03,1.04,
  1.05,1.04,1.03,1.02,1.02,1.01,1.01,1.01,1.02,
  1.02,1.02,1.015,1.01,1.01,1.01,1.0,1.0,1.0,1.0,1.0,0.995,0.995,0.99,0.99,
  1.02,1.02,0.985];
const isoFSI = [1.0,0.995,0.995,
  0.995,1.0,0.995,1.0,0.995,1.0,1.0,1.0,1.005,1.0,1.0,1.0,1.0,0.995,0.995,
  0.995,0.995,0.995,0.995,0.995,0.995,0.995,0.995,0.995,0.995,0.995,0.995,
  0.995,0.995,0.995,0.995,0.995,0.995,0.995,0.995,0.995,0.995,0.995,
  0.995,0.995,0.995,1.0,1.0,1.0,1.0,1.0,1.0,
  1.0,1.0,1.0,1.0,1.0,1.0,1.0,1.0,1.0,1.0,1.0,1.0,1.0,1.0,1.0,
  1.0,1.0,1.0];
const isoFEye = [1.045,0.935,0.95,
  0.96,1.02,0.97,0.94,0.905,0.99,0.945,0.875,1.05,0.96,0.955,1.0,0.99,0.93,1.05,
  0.90,0.945,1.05,1.06,1.09,1.03,1.04,1.0,1.06,1.02,1.03,1.06,
  1.07,1.08,1.0,1.04,1.06,0.98,1.05,1.0,1.02,1.04,1.1,
  1.12,1.13,1.1,1.06,1.01,1.03,0.99,1.02,1.03,
  1.04,1.0,1.03,1.02,0.99,1.03,1.01,1.02,1.0,1.04,1.01,0.99,1.0,1.01,0.98,
  1.0,0.99,0.93];

const panelData = [
  [apMColon,apMLungs,apMStomach,apMBladder,apMOeso,apMSkin,apMET,apMSI,apMEye],
  [apFColon,apFLungs,apFStomach,apFBladder,apFOeso,apFSkin,apFET,apFSI,apFEye],
  [paMColon,paMLungs,paMStomach,paMBladder,paMOeso,paMSkin,paMET,paMSI,paMEye],
  [paFColon,paFLungs,paFStomach,paFBladder,paFOeso,paFSkin,paFET,paFSI,paFEye],
  [isoMColon,isoMLungs,isoMStomach,isoMBladder,isoMOeso,isoMSkin,isoMET,isoMSI,isoMEye],
  [isoFColon,isoFLungs,isoFStomach,isoFBladder,isoFOeso,isoFSkin,isoFET,isoFSI,isoFEye]
];
panelData.forEach((p,i)=>p.forEach((a,j)=>{ if(a.length!==energies.length) throw new Error('length mismatch panel '+i+' series '+j+': '+a.length); }));

// ---------- STYLE ----------
const FONT = 'Liberation Sans, Arial, sans-serif';
const markerColors = ['#383838','#d62a2a','#2e4fe6','#3d9b48','#9c5fdc','#c9a11a','#52c4c6','#5b3a38','#7b7b15'];
const markerSymbols = ['rect','circle','triangle',
  'path://M0,0L10,0L5,8.66Z','diamond',
  'path://M0,5L8.66,0L8.66,10Z','path://M0,0L8.66,5L0,10Z',
  'path://M5,0L9.33,2.5L9.33,7.5L5,10L0.67,7.5L0.67,2.5Z',
  'path://M10,0L12.25,6.91L19.51,6.91L13.63,11.18L15.88,18.09L10,13.82L4.12,18.09L6.37,11.18L0.49,6.91L7.75,6.91Z'];
const markerSizes = [10,11,12,12,12,12,12,11,15];

const X_MIN = 4.7e-10, X_MAX = 5e4;
const colLeft = [76, 705], gridW = 553, gridH = 443.5, rowTop = [17, 542, 1068];
const legendLeft = [465.5, 1093];
const labelLeft = [113, 744];

// axis marks (decade + minor positions) for the log x axis
const axisMarks = [];
for (let e = -10; e <= 4; e++) {
  for (let m = 1; m <= 9; m++) {
    const v = m * Math.pow(10, e);
    if (v < X_MIN || v > X_MAX) continue;
    axisMarks.push([v, m === 1 ? 1 : 0, e]);
  }
}

function renderAxisMarks(params, api) {
  const x = api.value(0), major = api.value(1) === 1, exp = api.value(2);
  const top = api.coord([x, 2]); const bot = api.coord([x, 0]);
  const px = Math.round(bot[0]) + 0.5;
  const children = [
    {type:'line', shape:{x1:px, y1:top[1], x2:px, y2:bot[1]},
     style:{stroke: major ? '#c2c2c2' : '#d6d6d6', lineWidth:1, lineDash: major ? null : [1,2]}},
    {type:'line', shape:{x1:px, y1:bot[1], x2:px, y2:bot[1] + (major ? 7 : 4)},
     style:{stroke:'#000', lineWidth:1}}
  ];
  if (major) {
    children.push({type:'text', x:px, y:bot[1] + 12,
      style:{text:'{b|10}{s|' + exp + '}', align:'center', verticalAlign:'top', fill:'#000',
        rich:{b:{fontSize:16, fontFamily:FONT, fill:'#000', padding:[6,0,0,0]},
              s:{fontSize:11, fontFamily:FONT, fill:'#000', verticalAlign:'top'}}}});
  }
  return {type:'group', children};
}

const grids = [], xAxes = [], yAxes = [], series = [], legends = [], graphics = [];
panelData.forEach((arrs, i) => {
  const col = i % 2, row = Math.floor(i / 2);
  grids.push({left: colLeft[col], top: rowTop[row], width: gridW, height: gridH, containLabel:false});
  xAxes.push({type:'log', logBase:10, gridIndex:i, min:X_MIN, max:X_MAX,
    axisLine:{show:true, onZero:false, lineStyle:{color:'#000', width:1.5}},
    axisTick:{show:false}, axisLabel:{show:false}, splitLine:{show:false}, minorTick:{show:false},
    name:'Neutron energy (MeV)', nameLocation:'middle', nameGap:48,
    nameTextStyle:{fontSize:23, color:'#000', fontFamily:FONT}});
  yAxes.push({type:'value', gridIndex:i, min:0, max:2, interval:0.5,
    axisLine:{show:true, lineStyle:{color:'#000', width:1.5}},
    axisTick:{show:true, length:7, lineStyle:{color:'#000'}},
    minorTick:{show:true, splitNumber:5, length:4, lineStyle:{color:'#000'}},
    splitLine:{show:true, showMaxLine:false, lineStyle:{color:'#c2c2c2', width:1}},
    minorSplitLine:{show:true, lineStyle:{color:'#d6d6d6', type:[1,2], width:1}},
    axisLabel:{fontSize:16, color:'#000', margin:12, fontFamily:FONT, formatter:v=>v.toFixed(1)},
    name:'Ratio (sensitive region / entire region)', nameLocation:'middle', nameGap:45,
    nameTextStyle:{fontSize:23, color:'#000', fontFamily:FONT}});
  series.push({type:'custom', xAxisIndex:i, yAxisIndex:i, data:axisMarks, encode:{x:0, y:1},
    renderItem:renderAxisMarks, silent:true, z:1, clip:false});
  arrs.forEach((vals, j) => {
    series.push({type:'scatter', name:seriesNames[j], xAxisIndex:i, yAxisIndex:i,
      data: energies.map((e, k) => [e, vals[k]]),
      symbol: markerSymbols[j], symbolSize: markerSizes[j], symbolKeepAspect:true,
      itemStyle:{color: markerColors[j], opacity:1}, z:3, silent:true});
  });
  legends.push({data: seriesNames, orient:'vertical', left: legendLeft[col], top: rowTop[row] - 1,
    itemWidth:12, itemHeight:12, itemGap:4.6, selectedMode:false,
    backgroundColor:'#fff', borderColor:'#555', borderWidth:1, padding:[3,6,3,14],
    textStyle:{fontSize:16, lineHeight:16, color:'#000', fontFamily:FONT, padding:[0,0,0,11]}, z:6});
  graphics.push({type:'text', left: labelLeft[col], top: rowTop[row] + 22, z:10,
    style:{text: panelTitles[i], fontSize:22, fontFamily:FONT, fill:'#000',
      backgroundColor:'#fff', borderColor:'#444', borderWidth:1, padding:[5,5,5,5]}});
});

const chart = echarts.init(document.getElementById('c'), null, {renderer:'canvas'});
chart.setOption({
  backgroundColor:'#fff', animation:false,
  textStyle:{fontFamily:FONT},
  grid: grids, xAxis: xAxes, yAxis: yAxes, series: series, legend: legends, graphic: graphics
});
</script></body></html>
